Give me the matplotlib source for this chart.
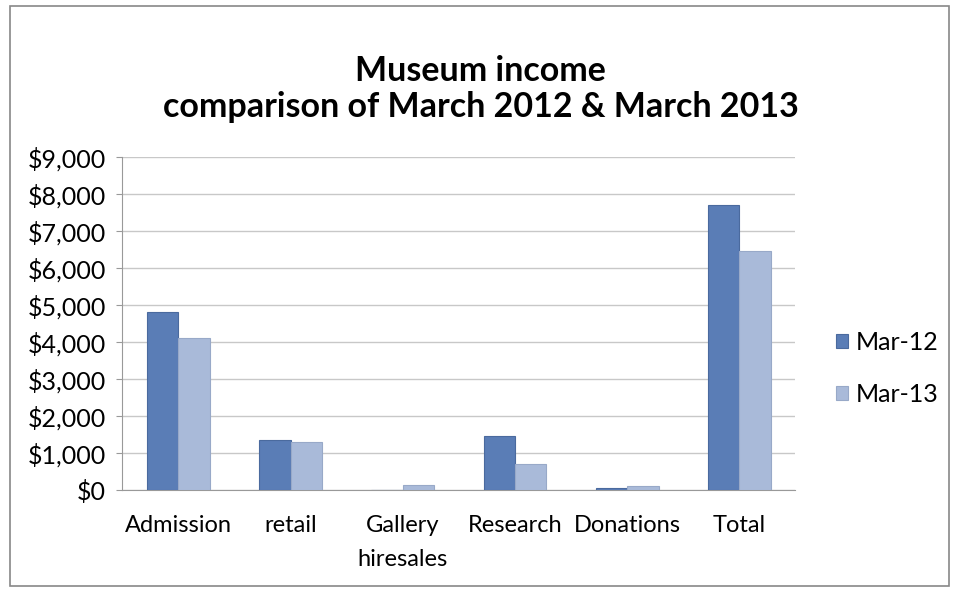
import matplotlib.pyplot as plt
import numpy as np
from matplotlib.patches import Rectangle
from matplotlib.ticker import FuncFormatter

plt.rcParams['font.family'] = ['Lato', 'DejaVu Sans']

# Data
categories = ['Admission', 'retail', 'Gallery\nhiresales', 'Research', 'Donations', 'Total']
mar12 = [4800, 1350, 0, 1450, 50, 7700]
mar13 = [4100, 1300, 150, 700, 100, 6450]

fig = plt.figure(figsize=(9.56, 5.92), dpi=100)
ax = fig.add_axes([0.128, 0.172, 0.704, 0.563])

x = np.arange(len(categories))
w = 0.28
ax.bar(x - w / 2, mar12, w, color='#5a7db6', edgecolor='#4a6a9e', linewidth=0.8, label='Mar-12', zorder=3)
ax.bar(x + w / 2, mar13, w, color='#a9bad9', edgecolor='#98a9c8', linewidth=0.8, label='Mar-13', zorder=3)

ax.set_xlim(-0.5, len(categories) - 0.5)
ax.set_ylim(0, 9000)
ax.set_yticks(range(0, 9001, 1000))
ax.yaxis.set_major_formatter(FuncFormatter(lambda v, p: '${:,.0f}'.format(v)))
ax.set_xticks(x)
ax.set_xticklabels(categories, fontsize=17, linespacing=1.75)
ax.tick_params(axis='y', labelsize=18, length=4, color='#999999', pad=8)
ax.tick_params(axis='x', length=0, pad=18)
ax.grid(axis='y', color='#c8c8c8', linewidth=1, zorder=0)

for side in ['top', 'right']:
    ax.spines[side].set_visible(False)
ax.spines['left'].set_color('#999999')
ax.spines['bottom'].set_color('#999999')

fig.text(0.503, 0.85, 'Museum income\ncomparison of March 2012 & March 2013',
         ha='center', va='center', fontsize=24.5, fontweight='bold', linespacing=1.15)

fig.legend(loc='center left', bbox_to_anchor=(0.874, 0.378), frameon=False,
           fontsize=18, handlelength=0.5, handleheight=0.5, labelspacing=1.15,
           handletextpad=0.3, borderaxespad=0, borderpad=0)

fig.patches.append(Rectangle((0.01, 0.01), 0.983, 0.98, transform=fig.transFigure,
                             fill=False, edgecolor='#888888', linewidth=1.2))

fig.savefig('out.png', dpi=100)
